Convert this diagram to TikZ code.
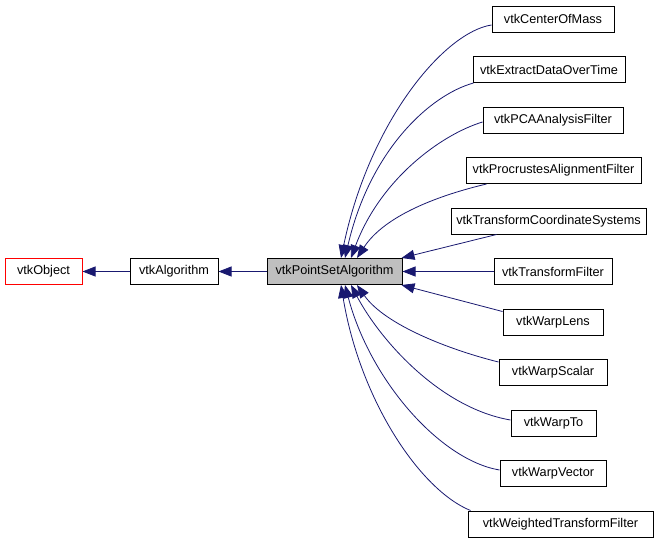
\documentclass[tikz,border=0pt]{standalone}
\usepackage{fontspec}
\setmainfont{Liberation Sans}
\usetikzlibrary{arrows.meta,calc}
\definecolor{edgeblue}{HTML}{191970}
\definecolor{boxgray}{HTML}{BFBFBF}
\begin{document}
\begin{tikzpicture}[x=1pt,y=-1pt,
  cls/.style={draw=black, line width=1pt, fill=white, inner sep=0pt, minimum height=26pt,
              font=\fontsize{12.7}{14}\selectfont},
  inh/.style={draw=edgeblue, line width=0.8pt, -{Triangle[length=13pt,width=10pt]}},
]
\useasboundingbox (0,0) rectangle (661,544);
% left chain
\node[cls, draw=red, minimum width=77pt] (obj) at (43.5,271.5) {vtkObject};
\node[cls, minimum width=88pt] (alg) at (174,271.5) {vtkAlgorithm};
\node[cls, fill=boxgray, minimum width=135pt] (psa) at (334.5,271.5) {vtkPointSetAlgorithm};
% children
\node[cls, minimum width=122pt] (com) at (553,19) {vtkCenterOfMass};
\node[cls, minimum width=152pt] (ext) at (549,69.5) {vtkExtractDataOverTime};
\node[cls, minimum width=140pt] (pca) at (553,120) {vtkPCAAnalysisFilter};
\node[cls, minimum width=175pt] (pro) at (553.5,170.5) {vtkProcrustesAlignmentFilter};
\node[cls, minimum width=195pt] (tcs) at (548.5,221) {vtkTransformCoordinateSystems};
\node[cls, minimum width=118pt] (tf) at (553,271.5) {vtkTransformFilter};
\node[cls, minimum width=100pt] (wl) at (553,322) {vtkWarpLens};
\node[cls, minimum width=108pt] (ws) at (553,372.5) {vtkWarpScalar};
\node[cls, minimum width=85pt] (wt) at (553.5,423) {vtkWarpTo};
\node[cls, minimum width=106pt] (wv) at (553,473.5) {vtkWarpVector};
\node[cls, minimum width=185pt] (wtf) at (560.5,524) {vtkWeightedTransformFilter};
% straight edges
\draw[inh] (alg.west) -- (obj.east);
\draw[inh] (psa.west) -- (alg.east);
\draw[inh] (tf.west) -- (psa.east);
% upper edges
\draw[inh] ($(com.west)+(0,6)$) .. controls (445,32) and (370,120) .. ($(psa.north)+(6.5,0)$);
\draw[inh] ($(ext.south west)+(1,0)$) .. controls (430,95) and (370,150) .. ($(psa.north)+(10.5,0)$);
\draw[inh] ($(pca.west)+(0,2)$) .. controls (440,135) and (380,180) .. ($(psa.north)+(16.5,0)$);
\draw[inh] ($(pro.south west)+(21,0)$) .. controls (440,195) and (385,215) .. ($(psa.north)+(22.5,0)$);
\draw[inh] ($(tcs.south west)+(46,0)$) -- ($(psa.north east)+(-1,0)$);
% lower edges
\draw[inh] ($(wl.north west)+(0,3)$) -- ($(psa.south east)+(-1,0)$);
\draw[inh] ($(ws.north west)+(0,3)$) .. controls (450,350) and (385,325) .. ($(psa.south)+(22.5,0)$);
\draw[inh] ($(wt.west)+(0,-3)$) .. controls (440,408) and (380,340) .. ($(psa.south)+(16.5,0)$);
\draw[inh] ($(wv.west)+(0,-3.5)$) .. controls (440,460) and (370,380) .. ($(psa.south)+(10.5,0)$);
\draw[inh] ($(wtf.north west)+(3,0)$) .. controls (420,490) and (360,400) .. ($(psa.south)+(6.5,0)$);
\end{tikzpicture}
\end{document}
